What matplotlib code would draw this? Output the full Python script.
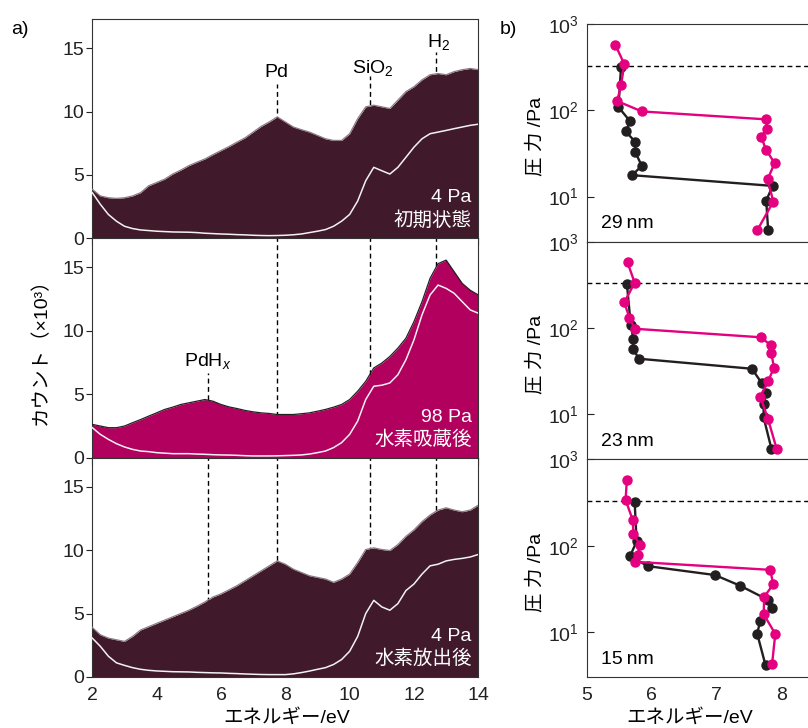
import numpy as np
import matplotlib.pyplot as plt
from matplotlib.ticker import NullLocator

plt.rcParams['font.family'] = ['Liberation Sans', 'Noto Sans CJK JP', 'DejaVu Sans']
plt.rcParams['mathtext.fontset'] = 'custom'
plt.rcParams['mathtext.rm'] = 'Liberation Sans'
plt.rcParams['mathtext.it'] = 'Liberation Sans:italic'
plt.rcParams['font.size'] = 14
plt.rcParams['axes.edgecolor'] = '#333333'

# a) spectres (x10^3 coups), lus sur la figure tous les 0.25 eV
energie = [2.0, 2.25, 2.5, 2.75, 3.0, 3.25, 3.5, 3.75, 4.0, 4.25, 4.5, 4.75,
           5.0, 5.25, 5.5, 5.75, 6.0, 6.25, 6.5, 6.75, 7.0, 7.25, 7.5, 7.75,
           8.0, 8.25, 8.5, 8.75, 9.0, 9.25, 9.5, 9.75, 10.0, 10.25, 10.5, 10.75,
           11.0, 11.25, 11.5, 11.75, 12.0, 12.25, 12.5, 12.75, 13.0, 13.25, 13.5, 13.75, 14.0]

haut_initial = [3.87, 3.34, 3.2, 3.15, 3.2, 3.34, 3.6, 4.14, 4.4, 4.67, 5.07, 5.38,
                5.73, 6.0, 6.26, 6.6, 6.92, 7.24, 7.59, 7.93, 8.38, 8.83, 9.18, 9.58,
                9.18, 8.78, 8.57, 8.38, 8.12, 7.85, 7.72, 7.72, 8.25, 9.44, 10.37, 10.5,
                10.37, 10.24, 10.9, 11.57, 11.96, 12.5, 12.9, 13.0, 12.9, 13.15, 13.3, 13.4, 13.3]
blanc_initial = [3.6, 2.68, 1.88, 1.35, 0.95, 0.77, 0.66, 0.61, 0.56, 0.53, 0.5, 0.49,
                 0.48, 0.45, 0.4, 0.37, 0.34, 0.32, 0.29, 0.27, 0.24, 0.22, 0.21, 0.22,
                 0.24, 0.28, 0.34, 0.45, 0.56, 0.69, 0.95, 1.35, 1.88, 2.94, 4.54, 5.6,
                 5.33, 5.07, 5.6, 6.39, 7.19, 7.85, 8.25, 8.38, 8.51, 8.65, 8.78, 8.91, 9.0]

haut_absorbe = [2.62, 2.49, 2.36, 2.36, 2.49, 2.75, 3.0, 3.27, 3.53, 3.8, 3.98, 4.19,
                4.32, 4.45, 4.58, 4.45, 4.19, 4.0, 3.87, 3.72, 3.61, 3.53, 3.48, 3.4,
                3.4, 3.4, 3.46, 3.53, 3.66, 3.8, 3.98, 4.19, 4.58, 5.24, 6.02, 7.07,
                7.46, 7.98, 8.64, 9.42, 10.73, 12.3, 14.14, 15.3, 15.58, 14.66, 13.74, 13.2, 12.83]
blanc_absorbe = [2.36, 1.83, 1.44, 1.1, 0.84, 0.65, 0.52, 0.47, 0.39, 0.35, 0.31, 0.31,
                 0.31, 0.28, 0.26, 0.23, 0.21, 0.2, 0.18, 0.15, 0.13, 0.13, 0.13, 0.14,
                 0.16, 0.18, 0.21, 0.28, 0.39, 0.52, 0.79, 1.18, 1.83, 2.88, 4.58, 5.63,
                 5.71, 5.89, 6.54, 7.72, 9.29, 11.26, 12.83, 13.61, 13.35, 12.96, 12.3, 11.65, 11.39]

haut_desorbe = [3.9, 3.32, 3.06, 2.93, 2.8, 3.19, 3.7, 3.96, 4.22, 4.48, 4.74, 5.0,
                5.26, 5.57, 5.91, 6.3, 6.55, 6.87, 7.2, 7.59, 7.98, 8.37, 8.76, 9.15,
                8.89, 8.5, 8.24, 7.98, 7.85, 7.72, 7.46, 7.72, 8.11, 9.02, 10.05, 10.18,
                10.05, 9.97, 10.44, 11.09, 11.6, 12.25, 12.77, 13.16, 13.34, 13.16, 13.03, 13.16, 13.55]
blanc_desorbe = [3.06, 2.41, 1.63, 1.11, 0.91, 0.73, 0.6, 0.52, 0.47, 0.44, 0.41, 0.4,
                 0.39, 0.36, 0.34, 0.32, 0.31, 0.28, 0.26, 0.23, 0.21, 0.19, 0.18, 0.18,
                 0.18, 0.24, 0.34, 0.46, 0.6, 0.73, 0.98, 1.37, 2.02, 3.19, 5.0, 6.04,
                 5.52, 5.26, 5.78, 6.81, 7.33, 8.11, 8.76, 8.89, 9.15, 9.27, 9.35, 9.46, 9.66]

pic_pdhx, pic_pd, pic_sio2, pic_h2 = 5.59, 7.73, 10.63, 12.67

# b) pression (Pa) en fonction de l'energie du pic (eV)
e_29_noir = [5.53, 5.49, 5.67, 5.60, 5.75, 5.75, 5.85, 5.70, 7.87, 7.77, 7.80]
p_29_noir = [319, 109, 74.5, 57, 43, 32.7, 22.7, 17.7, 13.3, 9.0, 4.1]
e_29_rose = [5.44, 5.58, 5.53, 5.47, 5.85, 7.77, 7.78, 7.69, 7.77, 7.90, 7.79, 7.88, 7.63]
p_29_rose = [578, 343, 195, 128, 97, 78.5, 61, 49.5, 34.6, 24.4, 15.8, 8.75, 4.05]

e_23_noir = [5.62, 5.68, 5.72, 5.71, 5.81, 7.55, 7.70, 7.77, 7.73, 7.73, 7.85]
p_23_noir = [324, 109, 74, 57, 44, 33.7, 23, 17.7, 13.2, 9.2, 4.0]
e_23_rose = [5.63, 5.74, 5.58, 5.66, 5.74, 7.69, 7.84, 7.85, 7.89, 7.80, 7.68, 7.80, 7.93]
p_23_rose = [575, 335, 198, 131, 98, 78, 63, 51, 34.7, 24.3, 16, 8.7, 4.0]

e_15_noir = [5.74, 5.77, 5.67, 5.94, 6.98, 7.37, 7.79, 7.86, 7.68, 7.63, 7.76]
p_15_noir = [322, 112, 76, 58, 45.7, 34.3, 23.7, 19, 13.5, 9.6, 4.1]
e_15_rose = [5.62, 5.60, 5.71, 5.72, 5.82, 5.79, 5.75, 7.83, 7.88, 7.74, 7.73, 7.91, 7.86]
p_15_rose = [582, 339, 199, 136, 103, 79, 65, 52.5, 35.8, 25.6, 16.1, 9.5, 4.2]

pression_seuil = 330

W, H = 808, 728
def cadre(x0, y0, x1, y1):
    return [x0 / W, 1 - y1 / H, (x1 - x0) / W, (y1 - y0) / H]

fig = plt.figure(figsize=(8.08, 7.28), dpi=100)

bordeaux = '#40192b'
magenta = '#b1005e'

panneaux_a = [
    (haut_initial, blanc_initial, bordeaux, '#8c7c84', '4 Pa', '初期状態'),
    (haut_absorbe, blanc_absorbe, magenta, '#222222', '98 Pa', '水素吸蔵後'),
    (haut_desorbe, blanc_desorbe, bordeaux, '#8c7c84', '4 Pa', '水素放出後'),
]
lignes = [
    [(pic_pd, 12.2), (pic_sio2, 12.8), (pic_h2, 14.7)],
    [(pic_pdhx, 6.7), (pic_pd, 17.3), (pic_sio2, 17.3), (pic_h2, 17.3)],
    [(pic_pdhx, 17.3), (pic_pd, 17.3), (pic_sio2, 17.3), (pic_h2, 17.3)],
]
h_a = 219.3
for i, (haut, blanc, coul, bord, pa, etat) in enumerate(panneaux_a):
    ax = fig.add_axes(cadre(92.3, 19 + i * h_a, 478.3, 19 + (i + 1) * h_a))
    for e, ymax in lignes[i]:
        ax.axvline(e, ymax=ymax / 17.3, color='black', ls=(0, (3.5, 2.5)), lw=1, zorder=1)
    ax.fill_between(energie, haut, 0, color=coul, lw=0, zorder=2)
    ax.plot(energie, haut, color=bord, lw=0.9, zorder=3)
    ax.plot(energie, blanc, color='#f2f2f2', lw=1.1, zorder=4)
    ax.set_xlim(2, 14)
    ax.set_ylim(0, 17.3)
    ax.set_yticks([0, 5, 10, 15])
    ax.set_xticks([2, 4, 6, 8, 10, 12, 14])
    ax.tick_params(axis='y', direction='out', length=4.5, pad=1.5, colors='#222222')
    if i < 2:
        ax.tick_params(axis='x', direction='out', length=5, labelbottom=False)
    else:
        ax.tick_params(axis='x', length=0, pad=7, colors='#222222')
    ax.text(0.983, 0.185, pa, transform=ax.transAxes, ha='right', va='center', color='white')
    ax.text(0.983, 0.083, etat, transform=ax.transAxes, ha='right', va='center', color='white')
    if i == 0:
        ax.text(pic_pd, 13.05, 'Pd', ha='center', va='center')
        ax.text(pic_sio2 + 0.1, 13.4, 'SiO$_2$', ha='center', va='center')
        ax.text(pic_h2 + 0.1, 15.5, 'H$_2$', ha='center', va='center')
    if i == 1:
        ax.text(pic_pdhx, 7.65, 'PdH$_x$', ha='center', va='center')

panneaux_b = [
    (e_29_noir, p_29_noir, e_29_rose, p_29_rose, '29\u2009nm'),
    (e_23_noir, p_23_noir, e_23_rose, p_23_rose, '23\u2009nm'),
    (e_15_noir, p_15_noir, e_15_rose, p_15_rose, '15\u2009nm'),
]
h_b = 217.7
for i, (en, pn, er, pr, nom) in enumerate(panneaux_b):
    ax = fig.add_axes(cadre(586.7, 24 + i * h_b, 820, 24 + (i + 1) * h_b))
    ax.axhline(pression_seuil, color='black', ls=(0, (3.5, 2.5)), lw=1, zorder=1)
    ax.plot(en, pn, '-o', color='#231f20', ms=6.5, lw=1.7, zorder=2)
    ax.plot(er, pr, '-o', color='#e4007f', ms=6.5, lw=1.7, zorder=3)
    ax.set_yscale('log')
    ax.set_ylim(3, 1000)
    ax.set_xlim(5, 8.6)
    ax.set_yticks([10, 100, 1000])
    ax.yaxis.set_minor_locator(NullLocator())
    ax.set_xticks([5, 6, 7, 8])
    ax.tick_params(axis='y', direction='in', length=5, pad=6, colors='#222222')
    ax.tick_params(axis='x', length=0, pad=7, colors='#222222', labelbottom=(i == 2))
    ax.text(0.061, 0.083, nom, transform=ax.transAxes, ha='left', va='center')
    fig.text(535 / W, 1 - (24 + (i + 0.5) * h_b + 4) / H, '圧 力 /Pa', rotation=90,
             ha='center', va='center')

fig.text(20 / W, 1 - 30 / H, 'a)', ha='center', va='center')
fig.text(508 / W, 1 - 30 / H, 'b)', ha='center', va='center')
fig.text(41 / W, 1 - 347 / H, 'カウント（×10³）', rotation=90, ha='center', va='center')
fig.text(287 / W, 1 - 718 / H, 'エネルギー/eV', ha='center', va='center')
fig.text(690 / W, 1 - 718 / H, 'エネルギー/eV', ha='center', va='center')

fig.savefig('out.png', dpi=100)
